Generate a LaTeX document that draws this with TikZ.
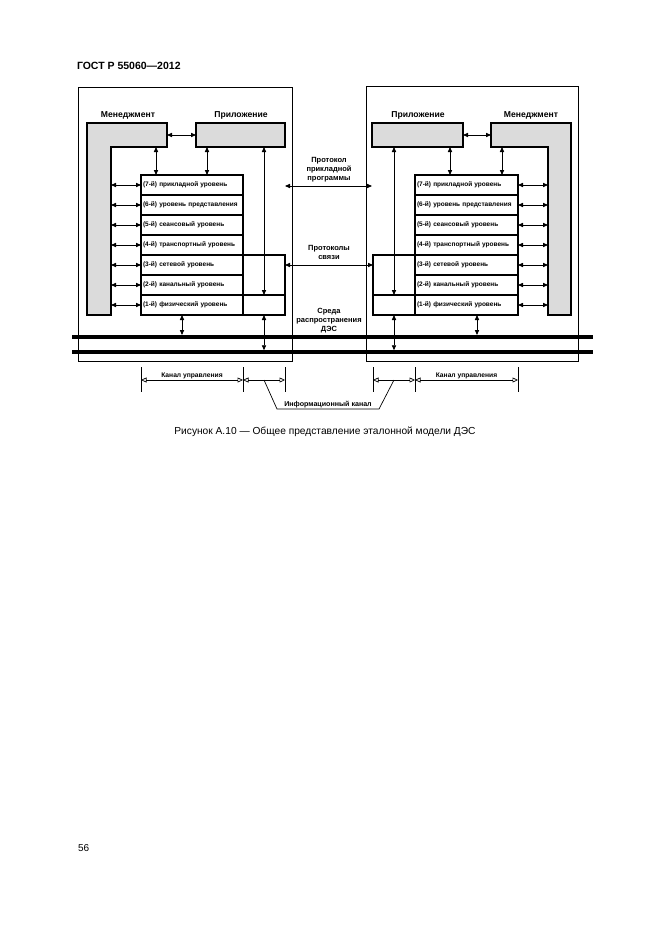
\documentclass[tikz,border=0pt]{standalone}
\usepackage{fontspec}
\setmainfont{Liberation Sans}
\usetikzlibrary{arrows.meta,calc}
\definecolor{boxgray}{gray}{0.86}
\begin{document}
\begin{tikzpicture}[x=1pt,y=-1pt,
  every node/.style={inner sep=0pt, outer sep=0pt},
  layer/.style={draw, line width=1.2pt, anchor=north west, minimum height=20pt,
    inner xsep=2pt, align=left, font=\fontsize{6.5}{7}\selectfont\bfseries},
  thickbox/.style={draw, line width=2.2pt, fill=boxgray},
  outerbox/.style={draw, line width=0.9pt, anchor=north west},
  exbox/.style={draw, line width=1.1pt, minimum width=42pt, minimum height=60pt},
  ghost/.style={draw=none},
  head/.style={font=\fontsize{8.6}{9}\selectfont\bfseries},
  mid/.style={align=center, font=\fontsize{7.5}{9}\selectfont\bfseries},
  small/.style={font=\fontsize{6.7}{7}\selectfont\bfseries},
  bus/.style={fill=black, minimum width=521pt},
  tip/.tip={Triangle[length=5pt,width=4.2pt]},
  dbl/.style={tip-tip, line width=0.9pt},
  otip/.tip={Triangle[open,length=5.5pt,width=5pt,line width=0.7pt]},
  dim/.style={otip-otip, line width=0.7pt},
  tickline/.style={line width=0.8pt},
]
\useasboundingbox (0,0) rectangle (661,935);

% page text
\node[anchor=west, font=\fontsize{10.5}{12}\selectfont\bfseries] (hdr) at (77,66) {ГОСТ Р 55060—2012};
\node[font=\fontsize{10.2}{12}\selectfont] (cap) at (325,432) {Рисунок А.10 — Общее представление эталонной модели ДЭС};
\node[anchor=west, font=\fontsize{10}{12}\selectfont] (pg) at (78,848) {56};

% outer boxes
\node[outerbox, minimum width=214pt, minimum height=274pt] (outL) at (78,87) {};
\node[outerbox, minimum width=212pt, minimum height=275pt] (outR) at (366,86) {};

% ---------------- left station
\draw[thickbox] (87,123) -- (167,123) -- (167,147) -- (111,147) -- (111,315) -- (87,315) -- cycle;
\node[ghost, minimum width=24pt, minimum height=192pt] (mgLv) at (99,219) {};
\node[ghost, minimum width=80pt, minimum height=24pt] (mgLh) at (127,135) {};
\node[head] (mgLt) at (128,115) {Менеджмент};
\node[thickbox, minimum width=89pt, minimum height=24pt] (appL) at (240.5,135) {};
\node[head] (appLt) at (241,115) {Приложение};

\node[layer, text width=98pt] (L7) at (141,175) {(7-й) прикладной уровень};
\node[layer, text width=98pt] (L6) at (L7.south west) {(6-й) уровень представления};
\node[layer, text width=98pt] (L5) at (L6.south west) {(5-й) сеансовый уровень};
\node[layer, text width=98pt] (L4) at (L5.south west) {(4-й) транспортный уровень};
\node[layer, text width=98pt] (L3) at (L4.south west) {(3-й) сетевой уровень};
\node[layer, text width=98pt] (L2) at (L3.south west) {(2-й) канальный уровень};
\node[layer, text width=98pt] (L1) at (L2.south west) {(1-й) физический уровень};
\node[exbox, anchor=north west] (exL) at (L3.north east) {};
\draw[line width=1.1pt] (L1.north east) -- (L1.north east -| exL.east);

\draw[dbl] (mgLh.east) -- (appL.west |- mgLh.east);
\draw[dbl] ([xshift=15pt]L7.north west) -- ([xshift=15pt]L7.north west |- mgLh.south);
\draw[dbl] ([xshift=66pt]L7.north west) -- ([xshift=66pt]L7.north west |- appL.south);
\draw[dbl] (exL.center |- appL.south) -- (exL.center |- L1.north);
\foreach \n in {7,6,5,4,3,2,1}
  \draw[dbl] (mgLv.east |- L\n.west) -- (L\n.west);

% ---------------- right station
\draw[thickbox] (491,123) -- (571,123) -- (571,315) -- (548,315) -- (548,147) -- (491,147) -- cycle;
\node[ghost, minimum width=23pt, minimum height=192pt] (mgRv) at (559.5,219) {};
\node[ghost, minimum width=80pt, minimum height=24pt] (mgRh) at (531,135) {};
\node[head] (mgRt) at (531,115) {Менеджмент};
\node[thickbox, minimum width=91pt, minimum height=24pt] (appR) at (417.5,135) {};
\node[head] (appRt) at (418,115) {Приложение};

\node[layer, text width=99pt] (R7) at (415,175) {(7-й) прикладной уровень};
\node[layer, text width=99pt] (R6) at (R7.south west) {(6-й) уровень представления};
\node[layer, text width=99pt] (R5) at (R6.south west) {(5-й) сеансовый уровень};
\node[layer, text width=99pt] (R4) at (R5.south west) {(4-й) транспортный уровень};
\node[layer, text width=99pt] (R3) at (R4.south west) {(3-й) сетевой уровень};
\node[layer, text width=99pt] (R2) at (R3.south west) {(2-й) канальный уровень};
\node[layer, text width=99pt] (R1) at (R2.south west) {(1-й) физический уровень};
\node[exbox, anchor=north east] (exR) at (R3.north west) {};
\draw[line width=1.1pt] (R1.north west) -- (R1.north west -| exR.west);

\draw[dbl] (appR.east) -- (mgRh.west);
\draw[dbl] ([xshift=35pt]R7.north west) -- ([xshift=35pt]R7.north west |- appR.south);
\draw[dbl] ([xshift=87pt]R7.north west) -- ([xshift=87pt]R7.north west |- mgRh.south);
\draw[dbl] (exR.center |- appR.south) -- (exR.center |- R1.north);
\foreach \n in {7,6,5,4,3,2,1}
  \draw[dbl] (R\n.east) -- (mgRv.west |- R\n.east);

% ---------------- medium
\node[bus, minimum height=4pt] (bus1) at (332.5,337) {};
\node[bus, minimum height=3.5pt] (bus2) at (332.5,352) {};
\draw[dbl] ([xshift=41pt]L1.south west) -- ([xshift=41pt]L1.south west |- bus1.north);
\draw[dbl] (exL.south) -- (exL.south |- bus2.north);
\draw[dbl] ([xshift=62pt]R1.south west) -- ([xshift=62pt]R1.south west |- bus1.north);
\draw[dbl] (exR.south) -- (exR.south |- bus2.north);

% ---------------- protocols
\node[mid] (tApp) at (329,170) {Протокол\\прикладной\\программы};
\node[mid] (tCom) at (329,252) {Протоколы\\связи};
\node[mid] (tMed) at (329,321) {Среда\\распространения\\ДЭС};
\draw[dbl] ([yshift=-1pt]appL.east |- L7.east) -- ([yshift=-1pt]appR.west |- R7.west);
\draw[dbl] (exL.east |- L3.east) -- (exR.west |- R3.west);

% ---------------- channels
\coordinate (dimY) at (0,380);
\coordinate (k1) at (L1.south west |- dimY);
\coordinate (k2) at (L1.south east |- dimY);
\coordinate (k3) at (exL.east |- dimY);
\coordinate (k4) at (exR.west |- dimY);
\coordinate (k5) at (R1.south west |- dimY);
\coordinate (k6) at (R1.south east |- dimY);
\foreach \k in {k1,k2,k3,k4,k5,k6}
  \draw[tickline] ([yshift=13pt]\k) -- ([yshift=-12pt]\k);
\draw[dim] (k1) -- node[small, above=1.5pt] {Канал управления} (k2);
\draw[dim] (k2) -- (k3);
\draw[dim] (k4) -- (k5);
\draw[dim] (k5) -- node[small, above=1.5pt] {Канал управления} (k6);
\draw[line width=0.7pt] ($(k2)!0.5!(k3)$) -- ++(13,29) -- node[small, above=1.5pt, font=\fontsize{7.1}{8}\selectfont\bfseries] (tInf) {Информационный канал} ++(102,0) -- ($(k4)!0.5!(k5)$);
\end{tikzpicture}
\end{document}
